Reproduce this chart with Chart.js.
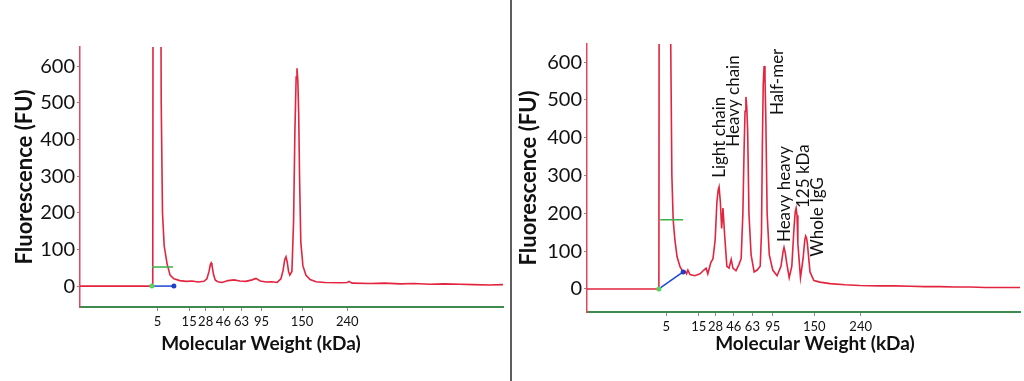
<!DOCTYPE html>
<html>
<head>
<meta charset="utf-8">
<script src="https://cdn.jsdelivr.net/npm/chart.js@4.4.1/dist/chart.umd.min.js"></script>
<style>
  html, body { margin: 0; padding: 0; background: #fff; }
  #wrap { position: relative; width: 1024px; height: 381px; overflow: hidden; }
  #left { position: absolute; left: 0; top: 0; }
  #right { position: absolute; left: 512px; top: 0; }
  #divider { position: absolute; left: 510px; top: 0; width: 2px; height: 381px; background: #5e5e5e; }
</style>
</head>
<body>
<div id="wrap">
  <canvas id="left" width="510" height="381"></canvas>
  <div id="divider"></div>
  <canvas id="right" width="512" height="381"></canvas>
</div>
<script>
// ---------- DATA ----------
// x axis: migration position (0-100 across the plot), y: fluorescence (FU)
const tickPositions = [18.3, 25.8, 29.7, 33.9, 38.2, 42.9, 52.5, 63.2];
const tickLabels = ['5', '15', '28', '46', '63', '95', '150', '240'];
const yTickValues = [0, 50, 100, 150, 200, 250, 300, 350, 400, 450, 500, 550, 600];

const leftX = [0, 17.0, 17.2, 17.4, 18.6, 19.2, 19.5, 19.9, 20.6, 21.3,
  22.2, 23.6, 25.1, 26.5, 27.9, 29.3, 30.0, 30.5, 30.8, 31.0, 31.2, 31.6, 32.0, 32.6,
  33.6, 35.0, 36.4, 37.8, 39.2, 40.7, 41.6, 42.6, 44.0, 45.4,
  46.6, 47.5, 48.0, 48.4, 48.7, 49.0, 49.3, 49.6, 50.1, 50.5, 50.8, 51.1, 51.3,
  51.5, 51.7, 51.9, 52.2, 52.7, 53.4, 54.4, 55.8, 57.9, 61.5, 63.2,
  63.6, 64.3, 68.6, 72.0, 75.7, 79.0, 82.7, 86.0, 89.8, 93.0, 96.9, 100];
const leftY = [0, 0, 0, 2400, 2400, 500, 200, 110, 60, 30,
  20, 15, 13, 14, 11, 13, 20, 40, 58, 63, 56, 30, 16, 12,
  10, 15, 17, 14, 13, 17, 21, 14, 11, 12,
  10, 20, 42, 72, 80, 65, 40, 30, 40, 180, 420, 570, 594,
  560, 470, 300, 120, 55, 30, 18, 12, 10, 9, 10,
  13, 8, 7, 8, 6, 7, 5, 6, 5, 4, 3, 4];

const rightX = [0, 16.6, 16.8, 18.0, 19.3, 19.6, 19.9, 20.3, 20.8, 21.5,
  22.2, 22.6, 23.0, 23.3, 23.8, 24.9, 26.1, 27.0, 27.5, 27.9,
  28.6, 29.1, 29.6, 30.0, 30.3, 30.5, 30.8, 31.1, 31.4, 31.8, 32.3,
  32.8, 33.3, 33.7, 34.4, 35.1, 35.6, 36.0, 36.3, 36.5, 36.7, 36.9, 37.1,
  37.4, 37.9, 38.6, 39.3, 40.0, 40.3, 40.5, 40.7, 40.9, 41.1, 41.3, 41.6,
  42.1, 42.9, 43.9, 44.8, 45.3, 45.5, 45.8, 46.1, 46.7, 47.3, 47.8, 48.1, 48.3,
  48.5, 48.7, 49.3, 49.9, 50.3, 50.5, 50.7, 50.9, 51.5, 52.4, 53.8, 56.1, 59.6,
  63.0, 67.7, 71.0, 74.6, 78.0, 81.5, 85.0, 88.5, 92.0, 95.4, 100];
const rightY = [0, 0, 2400, 2600, 700, 300, 183, 130, 85, 58,
  45, 48, 40, 50, 38, 35, 40, 50, 55, 40,
  70, 80, 130, 230, 262, 270, 230, 160, 214, 140, 60,
  55, 78, 55, 48, 65, 80, 200, 380, 470, 508, 480, 420,
  200, 90, 45, 50, 60, 150, 380, 540, 590, 560, 450, 200,
  90, 50, 35, 60, 100, 110, 95, 70, 30, 60, 160, 205, 214,
  195, 120, 30, 80, 130, 140, 135, 120, 45, 22, 18, 14, 11,
  9, 8, 8, 7, 6, 6, 5, 5, 4, 4, 4];

// marker lines (lower marker): green level bar and blue baseline segment
const leftGreenX = [17.0, 22.0];
const leftGreenY = [52, 52];
const leftBlueX = [17.0, 22.2];
const leftBlueY = [0, 0];
const rightGreenX = [16.9, 22.2];
const rightGreenY = [183, 183];
const rightBlueX = [16.6, 22.2];
const rightBlueY = [0, 45];

// peak annotations (right panel)
const annTexts = ['Light chain', 'Heavy chain', 'Half-mer', 'Heavy heavy', '125 kDa', 'Whole IgG'];
const annX = [30.5, 33.9, 43.9, 45.7, 49.9, 53.3];
const annY = [294, 376, 460, 124, 214, 85];

// ---------- CHART ----------
const FONT = 'Lato, "Open Sans", sans-serif';
const TRACE = '#e3243f';

function pts(xs, ys) { return xs.map((x, i) => ({ x: x, y: ys[i] })); }

const textPlugin = {
  id: 'textPlugin',
  afterDraw(chart) {
    const o = chart.options.plugins.textPlugin;
    const ctx = chart.ctx;
    const ca = chart.chartArea;
    ctx.save();
    ctx.fillStyle = '#111';
    // y title
    ctx.save();
    ctx.translate(ca.left - o.yTitleOffset, (ca.top + ca.bottom) / 2);
    ctx.rotate(-Math.PI / 2);
    ctx.font = 'bold 22px ' + FONT;
    ctx.textAlign = 'center';
    ctx.textBaseline = 'middle';
    ctx.fillText('Fluorescence (FU)', 0, 0);
    ctx.restore();
    // x title
    ctx.font = 'bold 19px ' + FONT;
    ctx.textAlign = 'center';
    ctx.textBaseline = 'middle';
    ctx.fillText('Molecular Weight (kDa)', ca.left + o.xTitleOffset, o.xTitleY);
    // annotations
    if (o.annotations) {
      const xs = chart.scales.x, ys = chart.scales.y;
      ctx.font = '17px ' + FONT;
      ctx.textAlign = 'left';
      ctx.textBaseline = 'middle';
      o.annotations.texts.forEach((t, i) => {
        ctx.save();
        ctx.translate(xs.getPixelForValue(o.annotations.x[i]), ys.getPixelForValue(o.annotations.y[i]));
        ctx.rotate(-Math.PI / 2);
        ctx.fillText(t, 0, 0);
        ctx.restore();
      });
    }
    ctx.restore();
  }
};

function makeChart(id, cfg) {
  return new Chart(document.getElementById(id), {
    type: 'line',
    data: {
      datasets: [
        { data: pts(cfg.tx, cfg.ty), borderColor: TRACE, borderWidth: 1.6, pointRadius: 0, tension: 0, order: 2 },
        { data: pts(cfg.gx, cfg.gy), borderColor: '#3cb24a', borderWidth: 1.5, pointRadius: 0, order: 1 },
        { data: pts(cfg.bx, cfg.by), borderColor: '#1d47d6', borderWidth: 1.5,
          pointRadius: 2.5, pointBorderWidth: 0,
          pointBackgroundColor: ['#56d35a', '#1d3fc9'], order: 0 }
      ]
    },
    options: {
      responsive: false,
      animation: false,
      devicePixelRatio: 1,
      layout: { padding: { top: cfg.top, right: cfg.right, left: 0, bottom: 0 } },
      plugins: {
        legend: { display: false },
        tooltip: { enabled: false },
        textPlugin: { yTitleOffset: cfg.yTitleOffset, xTitleOffset: cfg.xTitleOffset, xTitleY: cfg.xTitleY, annotations: cfg.annotations }
      },
      scales: {
        x: {
          type: 'linear', min: 0, max: 100,
          afterFit(s) { s.height = cfg.xHeight; },
          afterBuildTicks(s) { s.ticks = tickPositions.map(v => ({ value: v })); },
          border: { color: '#3f8a4f', width: 2 },
          grid: { drawOnChartArea: false, drawTicks: true, tickLength: 4, color: '#8a8a8a' },
          ticks: {
            autoSkip: false, maxRotation: 0, padding: 3, color: '#111',
            font: { family: FONT, size: 13 },
            callback: (v, i) => tickLabels[i]
          }
        },
        y: {
          type: 'linear', min: cfg.ymin, max: cfg.ymax,
          afterFit(s) { s.width = cfg.yWidth; },
          afterBuildTicks(s) { s.ticks = yTickValues.map(v => ({ value: v })); },
          border: { color: '#e8445c', width: 1.5 },
          grid: { drawOnChartArea: false, drawTicks: true, tickLength: 3, color: '#8a8a8a' },
          ticks: {
            padding: 2, color: '#111',
            font: { family: FONT, size: 20 },
            callback: (v) => (v % 100 === 0 ? String(v) : '')
          }
        }
      }
    },
    plugins: [textPlugin]
  });
}

makeChart('left', {
  tx: leftX, ty: leftY, gx: leftGreenX, gy: leftGreenY, bx: leftBlueX, by: leftBlueY,
  top: 47, right: 7, xHeight: 74, yWidth: 80, ymin: -57, ymax: 652,
  yTitleOffset: 55, xTitleOffset: 181, xTitleY: 344, annotations: null
});

makeChart('right', {
  tx: rightX, ty: rightY, gx: rightGreenX, gy: rightGreenY, bx: rightBlueX, by: rightBlueY,
  top: 44, right: 4, xHeight: 69, yWidth: 75, ymin: -61, ymax: 648,
  yTitleOffset: 58, xTitleOffset: 228, xTitleY: 344,
  annotations: { texts: annTexts, x: annX, y: annY }
});
</script>
</body>
</html>
